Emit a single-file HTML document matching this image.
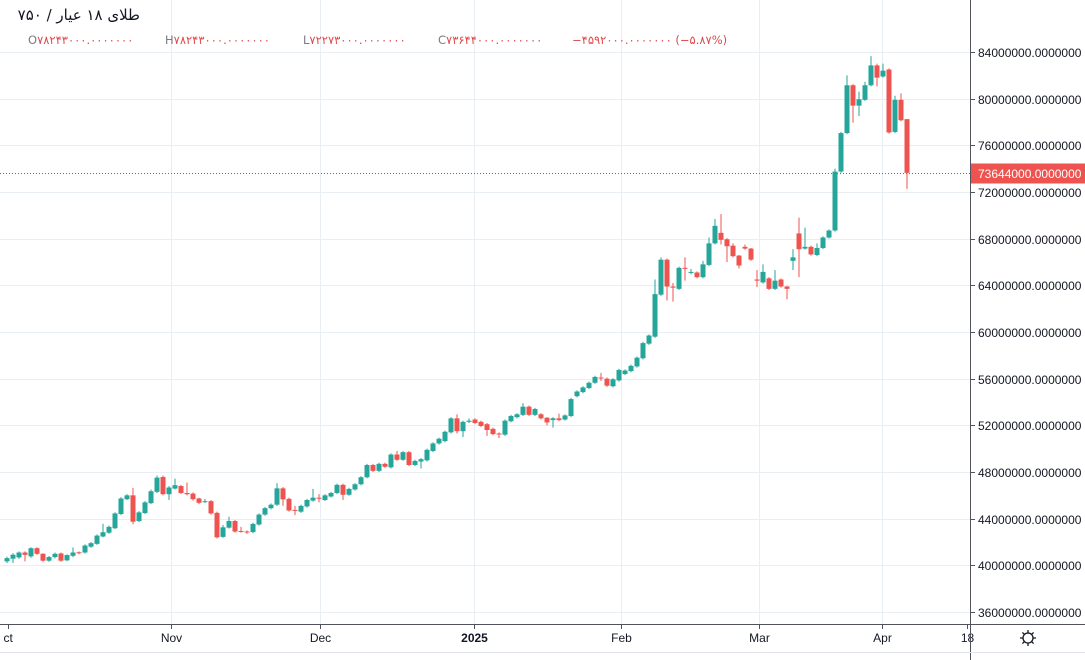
<!DOCTYPE html>
<html><head><meta charset="utf-8"><style>
html,body{margin:0;padding:0;background:#fff;}
svg{display:block;font-family:"Liberation Sans","Noto Sans CJK SC",sans-serif;}
</style></head><body>
<svg id="chart" width="1085" height="660" viewBox="0 0 1085 660" xmlns="http://www.w3.org/2000/svg">
<g id="grid"></g>
<g id="candles"></g>
<line id="lastLine" x1="0" x2="970" stroke="#f23645" stroke-width="1" stroke-dasharray="1,2"/>
<rect x="0" y="625" width="1085" height="35" fill="#fff"/>
<rect x="971" y="0" width="114" height="625" fill="#fff"/>
<g id="yaxis"></g>
<g id="xaxis"></g>
<line x1="970.5" y1="0" x2="970.5" y2="660" stroke="#50535e" stroke-width="1"/>
<line x1="0" y1="624.5" x2="1085" y2="624.5" stroke="#50535e" stroke-width="1"/>
<line x1="0" y1="652.5" x2="1085" y2="652.5" stroke="#e0e3eb" stroke-width="1"/>
<g transform="translate(1028,638)">
<circle r="5" fill="none" stroke="#131722" stroke-width="1.3"/>
<path d="M0,-8V-5M0,5V8M-8,0H-5M5,0H8M-5.6,-5.6L-3.6,-3.6M3.6,3.6L5.6,5.6M-5.6,5.6L-3.6,3.6M3.6,-3.6L5.6,-5.6" stroke="#131722" stroke-width="1.3"/>
</g>
<g id="lastLabel"></g>
<rect x="8" y="2" width="140" height="24" fill="#fff"/>
<text x="140" y="20" text-anchor="end" font-size="15" fill="#131722" font-family="'DejaVu Sans',sans-serif">طلای ۱۸ عیار / ۷۵۰</text>
<g font-size="11.5" font-family="'DejaVu Sans',sans-serif">
<text x="28" y="44" fill="#787b86">O<tspan fill="#e0484a">۷۸۲۴۳۰۰۰.۰۰۰۰۰۰۰</tspan></text>
<text x="165" y="44" fill="#787b86">H<tspan fill="#e0484a">۷۸۲۴۳۰۰۰.۰۰۰۰۰۰۰</tspan></text>
<text x="303" y="44" fill="#787b86">L<tspan fill="#e0484a">۷۲۲۷۳۰۰۰.۰۰۰۰۰۰۰</tspan></text>
<text x="438" y="44" fill="#787b86">C<tspan fill="#e0484a">۷۳۶۴۴۰۰۰.۰۰۰۰۰۰۰</tspan></text>
<text x="572" y="44" fill="#e0484a">−۴۵۹۲۰۰۰.۰۰۰۰۰۰۰ (−۵.۸۷%)</text>
</g>
</svg>
<script>
const opens  = [40.34,40.57,40.68,41.1,40.77,41.47,40.99,40.4,40.71,41.02,40.43,40.82,41.12,41.1,41.6,41.84,42.47,42.8,43.18,44.4,45.67,46.0,43.8,44.48,45.33,46.3,47.57,46.1,46.58,46.8,46.2,46.15,45.73,45.45,45.5,44.5,42.44,43.23,43.8,42.95,42.9,42.85,43.5,44.35,44.9,45.2,46.6,45.7,44.75,44.6,45.05,45.55,45.8,45.6,45.9,46.2,46.9,46.05,46.5,46.95,47.55,48.6,48.1,48.7,48.4,49.5,49.05,49.7,48.6,48.9,49.0,49.8,50.45,50.65,51.4,52.6,51.5,52.3,52.5,52.3,52.1,51.7,51.3,51.2,52.35,52.7,52.9,53.6,52.9,52.95,52.65,52.45,52.6,52.5,52.8,54.5,54.85,55.2,55.65,56.1,56.0,55.35,55.85,56.4,56.65,57.05,57.75,59.0,59.6,63.2,66.2,63.9,63.7,65.5,65.1,65.1,64.7,65.75,67.6,68.5,67.95,67.4,66.55,67.3,67.15,64.5,64.25,64.6,63.7,64.5,63.9,66.1,68.45,67.15,67.3,66.6,67.2,68.1,68.7,73.75,77.05,81.15,79.4,79.9,81.15,82.85,81.9,82.5,77.15,79.9,78.243];
const closes = [40.62,40.91,41.1,40.9,41.47,40.99,40.4,40.71,40.99,40.4,40.88,41.1,41.08,41.7,41.9,42.55,42.84,43.3,44.45,45.73,46.0,43.74,44.54,45.4,46.35,47.52,46.1,46.67,46.87,46.2,46.1,45.67,45.36,45.5,44.45,42.4,43.26,43.8,42.9,42.9,42.85,43.55,44.35,44.9,45.2,46.6,45.65,44.7,44.7,45.1,45.6,45.8,45.75,46.0,46.2,46.9,46.05,46.55,46.95,47.55,48.6,48.1,48.7,48.45,49.5,49.05,49.7,48.6,48.95,49.1,49.9,50.45,50.85,51.45,52.6,51.5,52.3,52.4,52.2,51.95,51.6,51.25,51.25,52.4,52.8,52.95,53.6,52.9,53.4,52.6,52.25,52.6,52.45,52.85,54.25,54.9,55.25,55.65,56.15,56.05,55.4,55.95,56.75,56.7,57.1,57.8,59.05,59.7,63.25,66.2,63.9,63.8,65.5,65.45,65.15,64.7,65.8,67.6,69.1,67.9,67.35,66.5,65.7,67.15,66.2,64.4,65.15,63.7,64.4,63.9,63.7,66.4,67.1,67.3,66.65,67.2,68.1,68.7,73.75,77.05,81.15,79.4,79.95,81.15,82.85,81.8,82.4,77.1,79.9,78.15,73.644];
const highs  = [40.75,41.05,41.2,41.2,41.55,41.55,41.05,40.8,41.1,41.1,40.95,41.53,41.2,41.8,42.0,42.65,43.57,43.4,44.55,45.85,46.1,46.64,44.65,45.5,46.5,47.7,47.7,46.8,47.43,46.9,47.1,46.25,45.8,45.7,45.6,44.6,43.46,44.17,43.9,43.3,43.0,43.65,44.45,45.0,45.3,47.05,46.7,45.8,45.1,45.2,45.7,46.55,46.1,46.1,46.3,47.0,47.0,46.65,47.05,47.65,48.7,48.7,48.8,48.8,49.6,49.8,49.8,49.8,49.05,49.2,50.0,50.55,50.95,51.55,52.7,52.95,52.4,52.6,52.6,52.4,52.2,51.8,51.4,52.5,52.9,53.05,53.9,53.7,53.5,53.05,52.7,52.7,53.0,52.95,54.35,55.0,55.35,55.75,56.25,56.5,56.1,56.05,56.85,56.8,57.2,57.9,59.15,59.8,64.5,66.4,66.3,64.2,65.6,66.4,65.4,65.2,66.1,68.1,69.7,70.1,68.05,67.6,66.6,67.5,67.2,65.3,65.8,64.7,65.3,64.6,63.95,67.1,69.8,68.95,67.4,67.6,68.2,68.8,74.0,77.15,82.0,81.25,80.6,81.45,83.65,83.0,83.0,82.6,80.25,80.45,78.243];
const lows   = [40.2,40.2,40.55,40.34,40.65,40.9,40.3,40.3,40.6,40.3,40.35,40.7,40.95,41.0,41.5,41.75,42.4,42.7,43.1,44.3,45.6,43.52,43.7,44.4,45.25,46.2,46.0,45.6,46.5,46.1,46.0,45.55,45.25,45.35,44.35,42.3,42.35,43.15,42.8,42.8,42.7,42.75,43.4,44.25,44.8,45.1,45.1,44.6,44.3,44.5,44.95,45.45,45.4,45.5,45.8,46.1,45.6,45.95,46.4,46.85,47.45,48.0,48.0,48.35,48.3,48.95,48.95,48.5,48.5,48.3,48.9,49.7,50.35,50.55,51.3,51.3,51.0,52.2,52.1,51.85,51.1,51.15,50.9,51.1,52.25,52.6,52.8,52.8,52.8,52.5,52.0,51.8,52.35,52.4,52.7,54.4,54.75,55.1,55.55,55.8,55.3,55.25,55.75,56.3,56.55,56.95,57.65,58.9,59.5,63.1,62.7,62.6,63.6,64.4,64.95,64.6,64.6,65.65,67.5,67.5,66.0,66.4,65.45,67.05,66.1,63.85,64.15,63.6,63.6,63.8,62.8,65.3,64.7,67.05,66.55,66.5,67.1,68.0,68.6,73.65,76.95,77.95,78.5,79.8,81.05,81.05,81.8,77.0,77.05,78.05,72.273];
const yTicks = [84,80,76,72,68,64,60,56,52,48,44,40,36];
const xTickLabels = ["ct","Nov","Dec","2025","Feb","Mar","Apr","18"];
const xTickIdx = [0.2,27.4,52.1,77.8,102.4,125.4,145.9,160];
const lastPrice = 73.644;

const NS="http://www.w3.org/2000/svg";
function yScale(v){return 52+(84-v)*11.667;}
function xScale(i){return 7+6*i;}
function mk(tag,attrs,parent){const e=document.createElementNS(NS,tag);for(const k in attrs)e.setAttribute(k,attrs[k]);parent.appendChild(e);return e;}
const grid=document.getElementById('grid'),cg=document.getElementById('candles'),ya=document.getElementById('yaxis'),xa=document.getElementById('xaxis');
yTicks.forEach(v=>{
  const y=Math.round(yScale(v))+0.5;
  const gl=mk('line',{x1:0,x2:970,y1:y,y2:y,stroke:'#e9eef2','stroke-width':1},grid);
  
  
  const tk=mk('line',{x1:970,x2:975,y1:y,y2:y,stroke:'#50535e'},ya);
  
  
  const t=mk('text',{x:978,y:y+4.5,'font-size':12,fill:'#131722'},ya);
  
  
  t.textContent=(v*1e6).toFixed(0)+'.0000000';
});
xTickLabels.forEach((lab,k)=>{
  const x=Math.round(xScale(xTickIdx[k]))+0.5;
  if(k>0&&k<7){
    const gl=mk('line',{x1:x,x2:x,y1:0,y2:624,stroke:'#e9eef2','stroke-width':1},grid);
    
    
  }
  const tk=mk('line',{x1:x,x2:x,y1:625,y2:629,stroke:'#50535e'},xa);
  
  
  const t=mk('text',{x:x,y:642,'font-size':12,fill:'#131722','text-anchor':k==0?'start':'middle','font-weight':lab==='2025'?'bold':'normal'},xa);
  
  
  t.textContent=lab;
  if(k==0)t.setAttribute('x',x-5);
});
opens.forEach((o,i)=>{
  const c=closes[i],x=xScale(i),up=c>=o,col=up?'#26a69a':'#ef5350';
  const w=mk('line',{x1:x,x2:x,y1:yScale(highs[i]),y2:yScale(lows[i]),stroke:col,'stroke-width':1},cg);
  
  
  const top=yScale(Math.max(o,c)),bot=yScale(Math.min(o,c));
  const b=mk('rect',{x:x-2.5,y:top,width:5,height:Math.max(1,bot-top),fill:col},cg);
  
  
});
const ly=Math.round(yScale(lastPrice))+0.5;
const ll=document.getElementById('lastLine');ll.setAttribute('y1',ly);ll.setAttribute('y2',ly);
const lg=document.getElementById('lastLabel');
mk('rect',{x:971,y:ly-10,width:114,height:20,fill:'#ef5350'},lg);
const lt=mk('text',{x:978,y:ly+4.5,'font-size':12,fill:'#fff'},lg);


lt.textContent=(lastPrice*1e6).toFixed(0)+'.0000000';
</script>
</body></html>
